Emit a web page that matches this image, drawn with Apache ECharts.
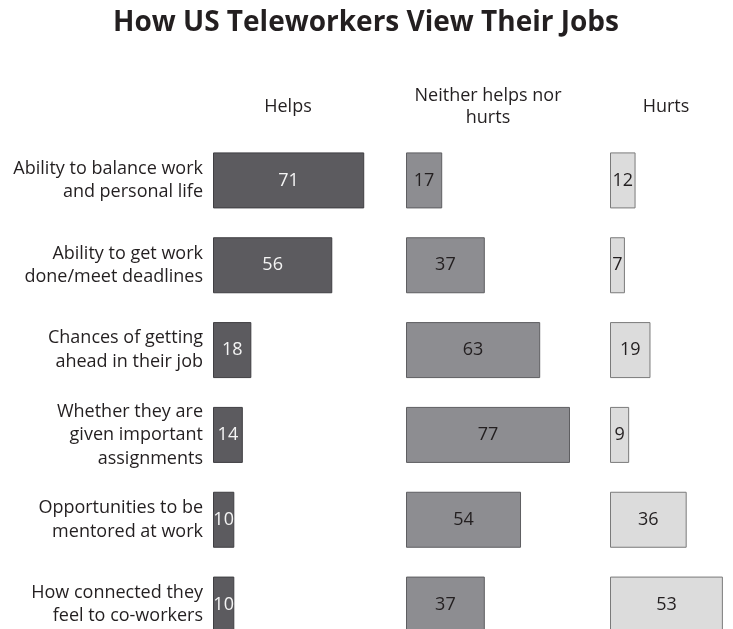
<!DOCTYPE html>
<html>
<head>
<meta charset="utf-8">
<script src="https://cdn.jsdelivr.net/npm/echarts@6/dist/echarts.min.js"></script>
<style>
  html, body { margin: 0; padding: 0; background: #ffffff; overflow: hidden; }
  /* drawing surface runs a little past the window so the last row is cut at the bottom edge */
  #chart { width: 733px; height: 670px; }
</style>
</head>
<body>
<div id="chart"></div>
<script>
// Survey items (row labels, top to bottom)
const categories = [
  'Ability to balance work\nand personal life',
  'Ability to get work\ndone/meet deadlines',
  'Chances of getting\nahead in their job',
  'Whether they are\ngiven important\nassignments',
  'Opportunities to be\nmentored at work',
  'How connected they\nfeel to co-workers'
];
// Share of teleworkers (%) for each response
const helps = [71, 56, 18, 14, 10, 10];
const neither = [17, 37, 63, 77, 54, 37];
const hurts = [12, 7, 19, 9, 36, 53];
const panelTitles = ['Helps', 'Neither helps nor\nhurts', 'Hurts'];
const chartTitle = 'How US Teleworkers View Their Jobs';

const FONT = '"Open Sans", "Noto Sans", sans-serif';
const PX_PER_UNIT = 2.13;           // common horizontal scale for all three panels
const panelLeft = [213, 406, 610];
const panelMax = [80, 85, 55];
const panelCenters = [288, 488, 666];

const panels = [
  { data: helps,   fill: '#5c5b5f', border: '#3f3e42', text: '#f4f4f4' },
  { data: neither, fill: '#8d8d91', border: '#5e5e61', text: '#231f20' },
  { data: hurts,   fill: '#dcdcdc', border: '#7a7a7a', text: '#231f20' }
];

const grid = [], xAxis = [], yAxis = [], series = [];
panels.forEach((p, i) => {
  grid.push({
    left: panelLeft[i],
    top: 138,
    width: panelMax[i] * PX_PER_UNIT,
    height: 509,
    containLabel: false
  });
  xAxis.push({
    type: 'value', gridIndex: i, min: 0, max: panelMax[i],
    show: false
  });
  yAxis.push({
    type: 'category', gridIndex: i, data: categories, inverse: true,
    axisLine: { show: false }, axisTick: { show: false }, splitLine: { show: false },
    axisLabel: i === 0 ? {
      show: true, margin: 10, align: 'right',
      fontFamily: FONT, fontSize: 18, lineHeight: 23.5, color: '#231f20'
    } : { show: false }
  });
  series.push({
    type: 'bar', xAxisIndex: i, yAxisIndex: i, data: p.data,
    barWidth: 56, silent: true,
    itemStyle: { color: p.fill, borderColor: p.border, borderWidth: 1 },
    label: {
      show: true, position: 'inside', color: p.text,
      fontFamily: FONT, fontSize: 18
    }
  });
});

const graphic = [
  {
    type: 'text', x: 366, y: 23,
    style: {
      text: chartTitle, textAlign: 'center', textVerticalAlign: 'middle',
      font: 'bold 28px ' + FONT, fill: '#231f20'
    }
  }
];
panelTitles.forEach((t, i) => {
  graphic.push({
    type: 'text', x: panelCenters[i], y: 107,
    style: {
      text: t, textAlign: 'center', textVerticalAlign: 'middle',
      font: '18px ' + FONT, lineHeight: 22, fill: '#231f20'
    }
  });
});

const chart = echarts.init(document.getElementById('chart'), null, { renderer: 'canvas' });
chart.setOption({
  backgroundColor: '#ffffff',
  animation: false,
  grid, xAxis, yAxis, series, graphic
});
</script>
</body>
</html>
